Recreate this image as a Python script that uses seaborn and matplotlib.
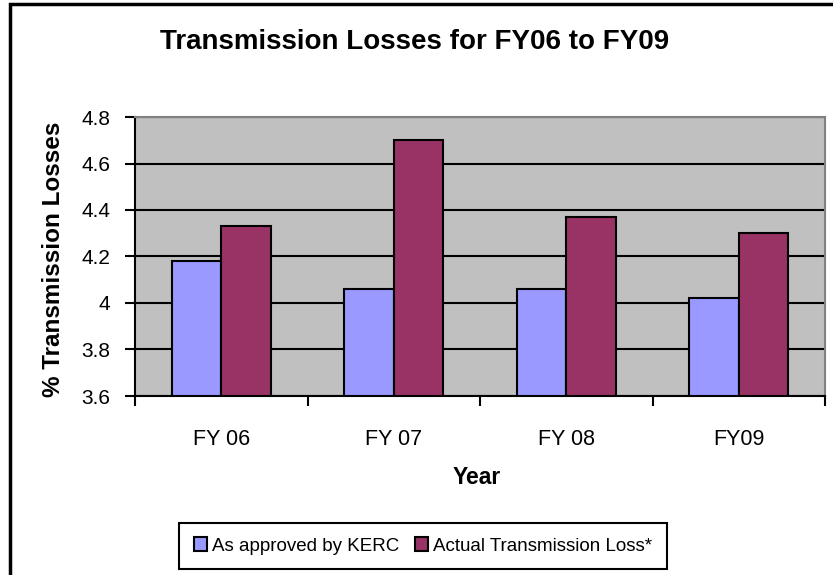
import numpy as np
import pandas as pd
import matplotlib
matplotlib.use('Agg')
import matplotlib.pyplot as plt
import matplotlib.patches as patches
import seaborn as sns

# Chart data
years = ['FY 06', 'FY 07', 'FY 08', 'FY09']
approved = [4.18, 4.06, 4.06, 4.02]
actual = [4.33, 4.70, 4.37, 4.30]
series_names = ['As approved by KERC', 'Actual Transmission Loss*']
y_ticks = [3.6, 3.8, 4.0, 4.2, 4.4, 4.6, 4.8]
y_tick_labels = ['3.6', '3.8', '4', '4.2', '4.4', '4.6', '4.8']

# Long format table for seaborn
df = pd.DataFrame({
    'Year': years * 2,
    'Loss': approved + actual,
    'Series': [series_names[0]] * len(years) + [series_names[1]] * len(years),
})

sns.set_theme(style='ticks')
plt.rcParams['font.family'] = ['Liberation Sans', 'DejaVu Sans']
plt.rcParams['text.color'] = 'black'
plt.rcParams['axes.labelcolor'] = 'black'
plt.rcParams['xtick.color'] = 'black'
plt.rcParams['ytick.color'] = 'black'

fig = plt.figure(figsize=(8.33, 5.75), dpi=100)
ax = fig.add_axes([135 / 833, 1 - 396 / 575, 690 / 833, 279 / 575])
ax.set_facecolor('#C0C0C0')

sns.barplot(data=df, x='Year', y='Loss', hue='Series', order=years,
            hue_order=series_names, palette=['#9999FF', '#993366'],
            saturation=1, width=0.575, edgecolor='black', linewidth=1.5,
            ax=ax, legend=True)

# Axes limits and ticks
ax.set_ylim(3.6, 4.8)
ax.set_xlim(-0.5, 3.5)
ax.set_yticks(y_ticks)
ax.set_yticklabels(y_tick_labels, fontsize=15)
ax.tick_params(axis='y', length=7, width=1.5, pad=11)
ax.tick_params(axis='x', which='major', length=0, pad=24, labelsize=15.5)
ax.set_xticks(np.arange(-0.5, 4, 1), minor=True)
ax.tick_params(axis='x', which='minor', length=7, width=1.5)

# Gridlines
ax.yaxis.grid(True, color='black', linewidth=1.5)
ax.set_axisbelow(True)

# Spines
for side in ['left', 'bottom']:
    ax.spines[side].set_color('black')
    ax.spines[side].set_linewidth(1.5)
for side in ['top', 'right']:
    ax.spines[side].set_visible(True)
    ax.spines[side].set_color('#808080')
    ax.spines[side].set_linewidth(1.5)

ax.set_xlabel('')
ax.set_ylabel('')
fig.text(477 / 833, 1 - 478 / 575, 'Year', ha='center', va='center',
         fontsize=16.5, fontweight='bold')
fig.text(54 / 833, 1 - 259 / 575, '% Transmission Losses', ha='center', va='center',
         rotation=90, fontsize=17.5, fontweight='bold')

fig.text(415 / 833, 1 - 42 / 575, 'Transmission Losses for FY06 to FY09',
         ha='center', va='center', fontsize=20, fontweight='bold')

# Legend at bottom
handles, labels = ax.get_legend_handles_labels()
ax.get_legend().remove()
leg = fig.legend(handles, labels, loc='center', bbox_to_anchor=(423 / 833, 1 - 546 / 575),
                 ncol=2, fontsize=13.5, frameon=True, fancybox=False,
                 edgecolor='black', framealpha=1, handlelength=0.7,
                 handleheight=0.7, handletextpad=0.3, columnspacing=0.8,
                 borderpad=0.75)
leg.get_frame().set_linewidth(1.5)

# Chart border (left and top visible)
fig.patches.append(patches.Rectangle((10 / 833, -0.05), 1.1, 1.05 - 4 / 575,
                                     transform=fig.transFigure, fill=False,
                                     edgecolor='black', linewidth=2.5))

fig.savefig('out.png', dpi=100)
